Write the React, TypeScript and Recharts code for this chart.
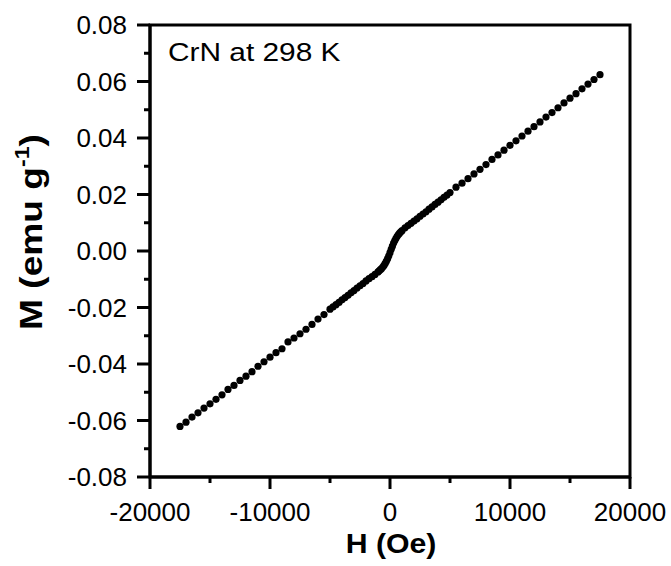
import { ScatterChart, Scatter, XAxis, YAxis, ReferenceArea } from "recharts";

// M–H sweep of CrN at 298 K
const fieldNeg = [
  -17500, -17000, -16500, -16000, -15500, -15000, -14500, -14000, -13500, -13000,
  -12500, -12000, -11500, -11000, -10500, -10000, -9500, -9000, -8500, -8000,
  -7500, -7000, -6500, -6000, -5500, -5000,
];
const momentNeg = [
  -0.0621, -0.0606, -0.0588, -0.0573, -0.0556, -0.0541, -0.0525, -0.0509, -0.0490, -0.0476,
  -0.0458, -0.0443, -0.0427, -0.0408, -0.0392, -0.0376, -0.0360, -0.0346, -0.0322, -0.0308,
  -0.0293, -0.0277, -0.0260, -0.0241, -0.0225, -0.0206,
];

const fieldLow = [
  -4750, -4500, -4250, -4000, -3750, -3500, -3250, -3000, -2750, -2500,
  -2250, -2000, -1750, -1500, -1250, -1000, -900, -800, -700, -600,
  -500, -400, -300, -200, -100, 0, 100, 200, 300, 400,
  500, 600, 700, 800, 900, 1000, 1250, 1500, 1750, 2000,
  2250, 2500, 2750, 3000, 3250, 3500, 3750, 4000, 4250, 4500, 4750,
];
const momentLow = [
  -0.0198, -0.0190, -0.0182, -0.0173, -0.0165, -0.0157, -0.0148, -0.0140, -0.0131, -0.0123,
  -0.0115, -0.0106, -0.0098, -0.0091, -0.0083, -0.0074, -0.0070, -0.0066, -0.0062, -0.0057,
  -0.0051, -0.0044, -0.0036, -0.0027, -0.0017, -0.0006, 0.0006, 0.0017, 0.0028, 0.0037,
  0.0045, 0.0052, 0.0058, 0.0063, 0.0068, 0.0072, 0.0082, 0.0090, 0.0098, 0.0106,
  0.0114, 0.0123, 0.0131, 0.0139, 0.0148, 0.0156, 0.0165, 0.0173, 0.0181, 0.0190, 0.0198,
];

const fieldPos = [
  5000, 5500, 6000, 6500, 7000, 7500, 8000, 8500, 9000, 9500,
  10000, 10500, 11000, 11500, 12000, 12500, 13000, 13500, 14000, 14500,
  15000, 15500, 16000, 16500, 17000, 17500,
];
const momentPos = [
  0.0207, 0.0226, 0.0240, 0.0256, 0.0273, 0.0289, 0.0306, 0.0324, 0.0340, 0.0357,
  0.0374, 0.0390, 0.0407, 0.0424, 0.0440, 0.0457, 0.0474, 0.0490, 0.0507, 0.0524,
  0.0541, 0.0557, 0.0574, 0.0591, 0.0607, 0.0624,
];

const xTicks = [-20000, -15000, -10000, -5000, 0, 5000, 10000, 15000, 20000];
const xMajor = [-20000, -10000, 0, 10000, 20000];
const yTicks = [
  -0.08, -0.07, -0.06, -0.05, -0.04, -0.03, -0.02, -0.01, 0,
  0.01, 0.02, 0.03, 0.04, 0.05, 0.06, 0.07, 0.08,
];
const yMajor = [-0.08, -0.06, -0.04, -0.02, 0, 0.02, 0.04, 0.06, 0.08];

const fields = [...fieldNeg, ...fieldLow, ...fieldPos];
const moments = [...momentNeg, ...momentLow, ...momentPos];
const data = fields.map((h, i) => ({ h, m: moments[i] }));

const FONT = "'Liberation Sans', Arial, Helvetica, sans-serif";

const XTick = (props: any) => {
  const { x, y, payload } = props;
  const major = xMajor.includes(payload.value);
  return (
    <g>
      <line x1={x} x2={x} y1={y} y2={y + (major ? 12 : 6)} stroke="#000" strokeWidth={3} />
      {major && (
        <text x={x} y={y + 44} textAnchor="middle" fontSize={26} fontFamily={FONT} fill="#000">
          {payload.value}
        </text>
      )}
    </g>
  );
};

const YTick = (props: any) => {
  const { x, y, payload } = props;
  const major = yMajor.includes(payload.value);
  return (
    <g>
      <line x1={x - (major ? 13 : 6)} x2={x} y1={y} y2={y} stroke="#000" strokeWidth={3} />
      {major && (
        <text x={x - 23} y={y} dy="0.36em" textAnchor="end" fontSize={26} fontFamily={FONT} fill="#000">
          {payload.value.toFixed(2)}
        </text>
      )}
    </g>
  );
};

const XTitle = () => (
  <g>
    <text
      transform="translate(391,553) scale(1.08,1)"
      textAnchor="middle"
      fontSize={28}
      fontWeight="bold"
      fontFamily={FONT}
      fill="#000"
    >
      H (Oe)
    </text>
    <text transform="translate(168,61) scale(1.17,1)" fontSize={25.5} fontFamily={FONT} fill="#000">
      CrN at 298 K
    </text>
  </g>
);

const YTitle = () => (
  <text
    transform="translate(42,232) rotate(-90) scale(1.16,1)"
    textAnchor="middle"
    fontSize={32}
    fontWeight="bold"
    fontFamily={FONT}
    fill="#000"
  >
    M (emu g
    <tspan fontSize={20} dy={-13}>-1</tspan>
    <tspan dy={13}>)</tspan>
  </text>
);

const Dot = (props: any) => <circle cx={props.cx} cy={props.cy} r={3.6} fill="#000" />;

const App = () => {
  return (
    <div style={{ position: "absolute", left: 0, top: 0, width: 671, height: 566, background: "#fff" }}>
      <ScatterChart width={671} height={566} margin={{ top: 25, right: 41, bottom: 29, left: 40 }}>
        <XAxis
          type="number"
          dataKey="h"
          domain={[-20000, 20000]}
          ticks={xTicks}
          interval={0}
          tick={<XTick />}
          tickLine={false}
          tickSize={0}
          tickMargin={0}
          axisLine={{ stroke: "#000", strokeWidth: 3 }}
          height={60}
          label={{ content: () => <XTitle /> }}
        />
        <YAxis
          type="number"
          dataKey="m"
          domain={[-0.08, 0.08]}
          ticks={yTicks}
          interval={0}
          tick={<YTick />}
          tickLine={false}
          tickSize={0}
          tickMargin={0}
          axisLine={{ stroke: "#000", strokeWidth: 3 }}
          width={110}
          label={{ content: () => <YTitle /> }}
        />
        <ReferenceArea
          x1={-20000}
          x2={20000}
          y1={-0.08}
          y2={0.08}
          fill="none"
          fillOpacity={0}
          stroke="#000"
          strokeWidth={3}
          strokeOpacity={1}
          ifOverflow="visible"
        />
        <Scatter data={data} shape={<Dot />} isAnimationActive={false} />
      </ScatterChart>
    </div>
  );
};

export default App;
